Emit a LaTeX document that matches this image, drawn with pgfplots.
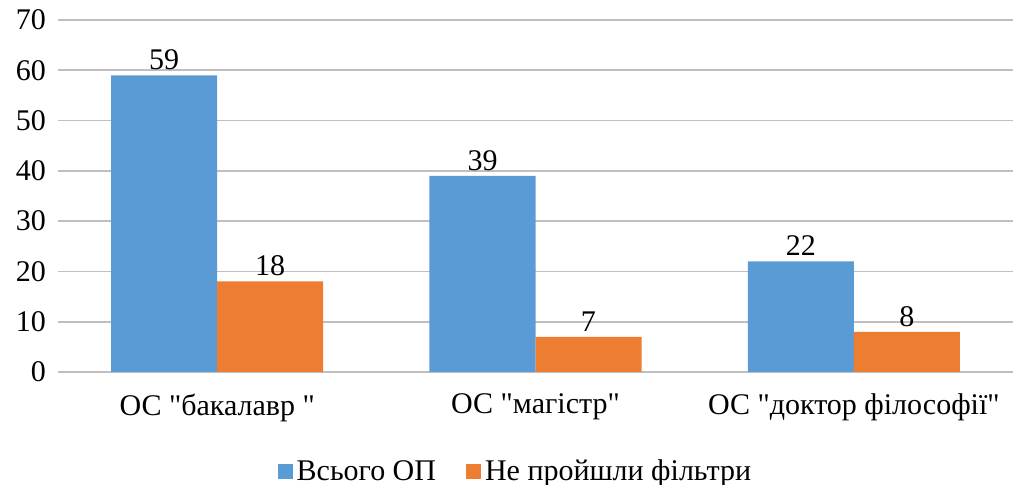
\documentclass[border=0pt]{standalone}
\usepackage{pgfplots}
\pgfplotsset{compat=1.18}
\usepackage{fontspec}
\setmainfont{Liberation Serif}
\definecolor{cblue}{HTML}{5B9BD5}
\definecolor{corange}{HTML}{ED7D31}
\definecolor{cgrid}{HTML}{BFBFBF}
\font\qf="Liberation Serif" at 15pt
\newcommand{\q}{{\qf\char34}}
\begin{document}
\begin{tikzpicture}
\useasboundingbox (-29pt,-56.5pt) rectangle (478pt,186pt);
\begin{axis}[
  at={(0pt,0pt)}, anchor=south west,
  scale only axis, width=477.5pt, height=176pt,
  ybar=0pt, bar width=53pt,
  xmin=-0.5, xmax=2.5, ymin=0, ymax=70,
  xtick={0,1,2},
  xticklabels={ОС \q бакалавр \q, ОС \q магістр\q, ОС \q доктор філософії\q},
  ytick={0,10,...,70},
  ymajorgrids, grid style={cgrid, line width=0.8pt},
  axis line style={draw=none},
  major tick length=0pt,
  tick label style={font=\fontsize{15}{17}\selectfont},
  /pgf/number format/assume math mode=true,
  yticklabel style={xshift=-2.5pt},
  xticklabel style={yshift=-7.5pt},
  nodes near coords,
  every node near coord/.append style={font=\fontsize{15}{17}\selectfont, inner sep=2.5pt},
  legend columns=2,
  legend style={at={(0.48,-0.283)}, anchor=center, draw=none, fill=none,
    font=\fontsize{15}{17}\selectfont,
    /tikz/every even column/.append style={column sep=13pt}},
  legend image code/.code={\fill[#1,draw=none] (0pt,-3.75pt) rectangle (7.5pt,3.75pt);},
]
\addplot[fill=cblue, draw=none] coordinates {(0,59) (1,39) (2,22)};
\addplot[fill=corange, draw=none] coordinates {(0,18) (1,7) (2,8)};
\legend{Всього ОП, Не пройшли фільтри}
\end{axis}
\end{tikzpicture}
\end{document}
